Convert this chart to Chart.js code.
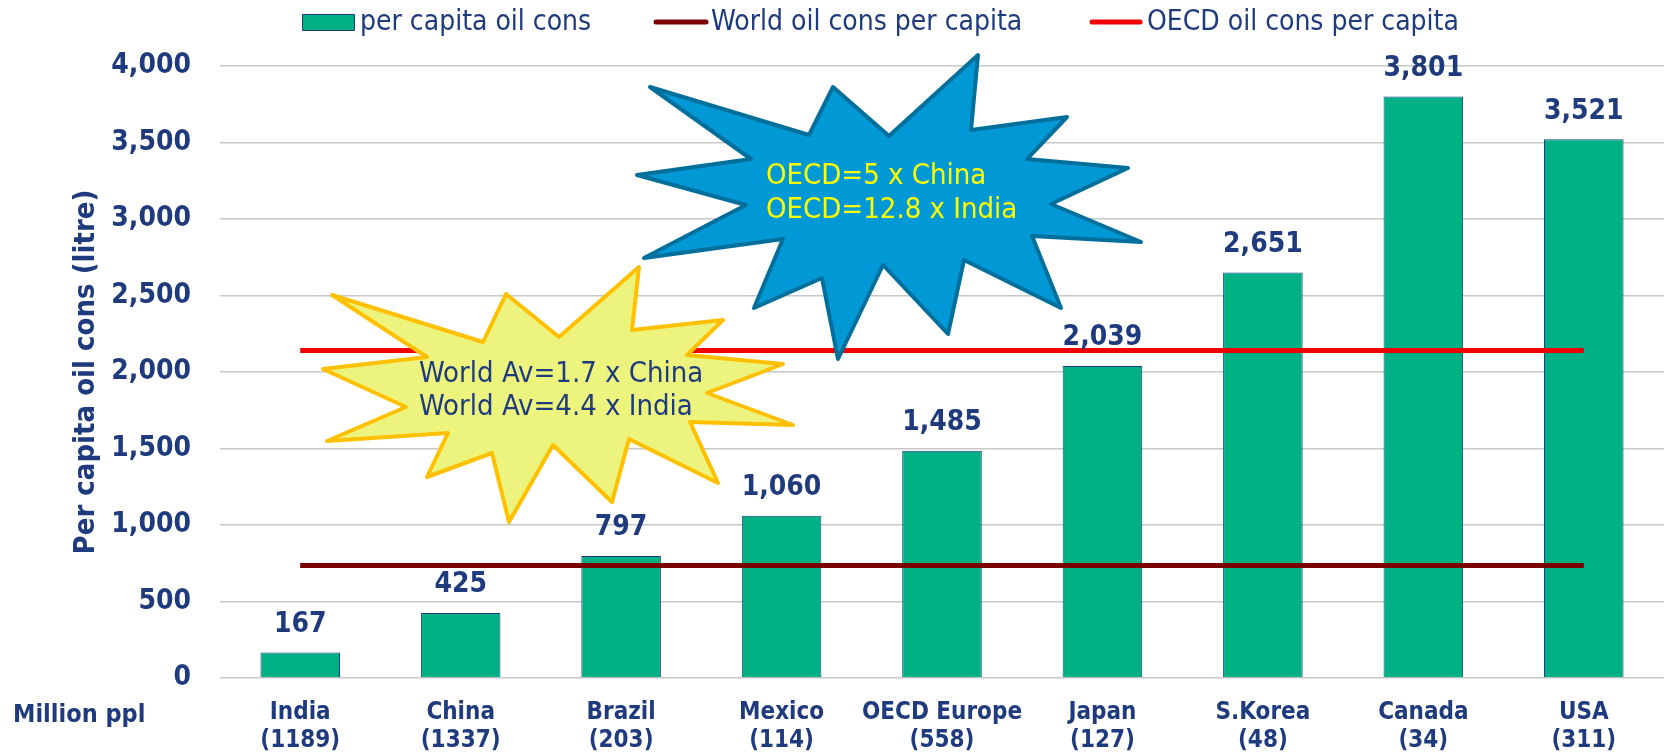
<!DOCTYPE html>
<html>
<head>
<meta charset="utf-8">
<script src="https://cdn.jsdelivr.net/npm/chart.js@4.4.1/dist/chart.umd.min.js"></script>
<style>
  html, body { margin: 0; padding: 0; background: #fff; }
</style>
</head>
<body>
<canvas id="oilChart" width="1664" height="755"></canvas>
<script>
// data
const countries = ['India', 'China', 'Brazil', 'Mexico', 'OECD Europe', 'Japan', 'S.Korea', 'Canada', 'USA'];
const population = ['(1189)', '(1337)', '(203)', '(114)', '(558)', '(127)', '(48)', '(34)', '(311)'];
const perCapita = [167, 425, 797, 1060, 1485, 2039, 2651, 3801, 3521];
const worldAvg = [735, 735, 735, 735, 735, 735, 735, 735, 735];
const oecdAvg = [2140, 2140, 2140, 2140, 2140, 2140, 2140, 2140, 2140];
const yTicks = [0, 500, 1000, 1500, 2000, 2500, 3000, 3500, 4000];

const navy = '#1f3b7d';
const cond = '"DejaVu Sans Condensed", "DejaVu Sans", sans-serif';

// callout shapes (pixel outlines of the two starbursts)
const yellowStar = [[332,295],[483,342],[506,294],[559,337],[639,267],[632,330],[723,320],[687,355],[783,364],[707,393],[793,425],[690,422],[718,483],[629,439],[612,502],[553,445],[509,522],[492,453],[427,477],[448,433],[327,441],[406,407],[323,369],[427,357]];
const blueStar = [[650,87],[809,135],[833,87],[889,136],[978,55],[971,130],[1067,117],[1027,159],[1128,168],[1051,204],[1141,242],[1032,236],[1061,308],[964,260],[948,334],[883,265],[838,359],[822,278],[754,308],[783,239],[644,258],[746,205],[637,175],[751,159]];

function drawStar(ctx, pts, fill, stroke) {
  ctx.beginPath();
  pts.forEach((p, i) => i ? ctx.lineTo(p[0], p[1]) : ctx.moveTo(p[0], p[1]));
  ctx.closePath();
  ctx.fillStyle = fill;
  ctx.fill();
  ctx.lineWidth = 4;
  ctx.lineJoin = 'round';
  ctx.strokeStyle = stroke;
  ctx.stroke();
}

const overlay = {
  id: 'overlay',
  afterDatasetsDraw(chart) {
    const ctx = chart.ctx;
    ctx.save();
    // value labels over bars
    ctx.fillStyle = navy;
    ctx.font = 'bold 28px ' + cond;
    ctx.textAlign = 'center';
    ctx.textBaseline = 'middle';
    chart.getDatasetMeta(0).data.forEach((bar, i) => {
      ctx.fillText(perCapita[i].toLocaleString('en-US'), bar.x, bar.y - 28);
    });

    drawStar(ctx, yellowStar, '#edf47e', '#ffc000');
    drawStar(ctx, blueStar, '#0099d6', '#006f9b');

    ctx.font = '29px ' + cond;
    ctx.textAlign = 'left';
    ctx.fillStyle = navy;
    ctx.fillText('World Av=1.7 x China', 419, 374);
    ctx.fillText('World Av=4.4 x India', 419, 407);
    ctx.fillStyle = '#ffff00';
    ctx.fillText('OECD=5 x China', 766, 176);
    ctx.fillText('OECD=12.8 x India', 766, 210);

    ctx.fillStyle = navy;
    ctx.font = 'bold 25px ' + cond;
    ctx.fillText('Million ppl', 13, 715);

    // legend
    const ds = chart.data.datasets;
    ctx.font = '28px ' + cond;
    ctx.fillStyle = ds[0].backgroundColor;
    ctx.fillRect(302, 14, 52, 16);
    ctx.lineWidth = 1;
    ctx.strokeStyle = ds[0].borderColor;
    ctx.strokeRect(302.5, 14.5, 52, 16);
    ctx.lineCap = 'round';
    ctx.lineWidth = 5;
    ctx.strokeStyle = ds[1].borderColor;
    ctx.beginPath(); ctx.moveTo(656, 22); ctx.lineTo(706, 22); ctx.stroke();
    ctx.strokeStyle = ds[2].borderColor;
    ctx.beginPath(); ctx.moveTo(1092, 22); ctx.lineTo(1140, 22); ctx.stroke();
    ctx.fillStyle = navy;
    ctx.fillText(ds[0].label, 360, 23);
    ctx.fillText(ds[1].label, 711, 23);
    ctx.fillText(ds[2].label, 1147, 23);
    ctx.restore();
  }
};

new Chart(document.getElementById('oilChart'), {
  type: 'bar',
  data: {
    labels: countries.map((c, i) => [c, population[i]]),
    datasets: [{
      label: 'per capita oil cons',
      data: perCapita,
      backgroundColor: '#00b085',
      borderColor: '#1f3b7d',
      borderWidth: 1,
      barPercentage: 0.496,
      categoryPercentage: 1,
      order: 2
    }, {
      type: 'line',
      label: 'World oil cons per capita',
      data: worldAvg,
      borderColor: '#7a0000',
      borderWidth: 5,
      pointRadius: 0,
      order: 1
    }, {
      type: 'line',
      label: 'OECD oil cons per capita',
      data: oecdAvg,
      borderColor: '#ee0000',
      borderWidth: 5,
      pointRadius: 0,
      order: 0
    }]
  },
  options: {
    responsive: false,
    animation: false,
    devicePixelRatio: 1,
    layout: { padding: { top: 66, right: 0, left: 0, bottom: 0 } },
    plugins: {
      legend: { display: false },
      tooltip: { enabled: false }
    },
    scales: {
      x: {
        grid: { display: false },
        border: { display: false },
        ticks: {
          color: navy,
          padding: 12,
          maxRotation: 0,
          autoSkip: false,
          font: { family: cond, size: 24, weight: 'bold', lineHeight: 1.2 }
        },
        afterFit(scale) { scale.height = 77; }
      },
      y: {
        min: 0,
        max: 4000,
        afterBuildTicks(scale) { scale.ticks = yTicks.map(v => ({ value: v })); },
        grid: { color: '#c8c8c8', lineWidth: 1.5, drawTicks: false },
        border: { display: false },
        ticks: {
          color: navy,
          padding: 29,
          font: { family: cond, size: 28, weight: 'bold' }
        },
        title: {
          display: true,
          text: 'Per capita oil cons (litre)',
          color: navy,
          padding: { top: 69, bottom: 0 },
          font: { family: cond, size: 29, weight: 'bold' }
        },
        afterFit(scale) { scale.width = 220; }
      }
    }
  },
  plugins: [overlay]
});
</script>
</body>
</html>
